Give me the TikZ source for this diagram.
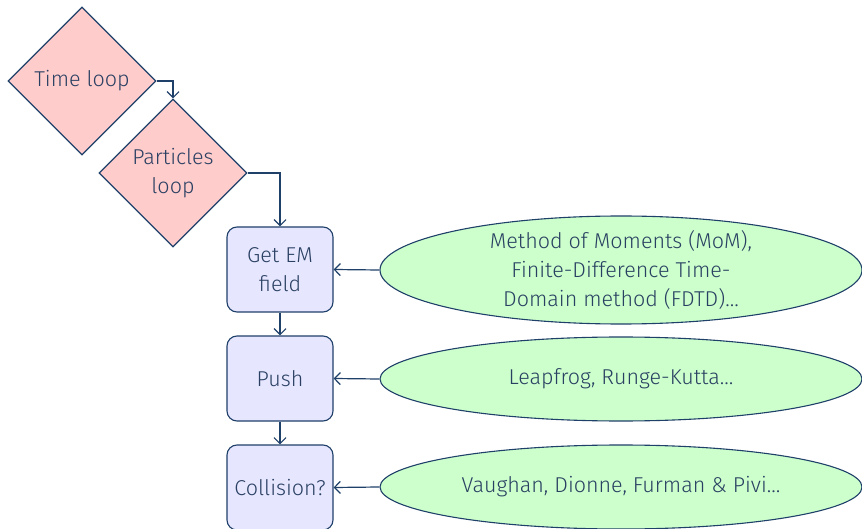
\documentclass[tikz,border=0pt]{standalone}
\usepackage{fontspec}
\setmainfont{Fira Sans}[UprightFont=* Light]
\usetikzlibrary{shapes.geometric,arrows.meta}
\definecolor{lineC}{RGB}{31,64,105}
\definecolor{textC}{RGB}{42,64,98}
\definecolor{pinkF}{RGB}{255,204,204}
\definecolor{blueF}{RGB}{230,230,255}
\definecolor{greenF}{RGB}{204,255,204}
\tikzset{
  every node/.style={font=\fontsize{21.5pt}{29pt}\selectfont, text=textC},
  loopbox/.style={diamond, draw=lineC, fill=pinkF, line width=1.1pt, minimum width=148pt, minimum height=148pt, inner sep=0pt, align=center},
  stepbox/.style={rectangle, rounded corners=10pt, draw=lineC, fill=blueF, line width=1.1pt, minimum width=106pt, minimum height=85pt, inner sep=0pt, align=center},
  methodell/.style={ellipse, draw=lineC, fill=greenF, line width=1.1pt, minimum width=482pt, inner sep=0pt},
  methodtxt/.style={align=center, inner sep=0pt},
  conn/.style={draw=lineC, line width=1.2pt, -{Straight Barb[length=6pt,width=12pt,line width=1.2pt]}},
}
\begin{document}
\begin{tikzpicture}[x=1pt,y=-1pt]
\useasboundingbox (0,0) rectangle (862,529);
\node[loopbox] (tl) at (82,81) {Time loop};
\node[loopbox] (pl) at (173,173) {Particles\\loop};
\node[stepbox] (gem) at (280,269.5) {Get EM\\field};
\node[stepbox] (push) at (280,378.5) {Push};
\node[stepbox] (col) at (280,487.5) {Collision?};
\node[methodell, minimum height=108pt, label={[methodtxt]center:Method of Moments (MoM),\\Finite-Difference Time-\\Domain method (FDTD)…}] (e1) at (621,270) {};
\node[methodell, minimum height=84pt, label={[methodtxt]center:Leapfrog, Runge-Kutta…}] (e2) at (621,379) {};
\node[methodell, minimum height=84pt, label={[methodtxt]center:Vaughan, Dionne, Furman \& Pivi…}] (e3) at (621,487) {};
\draw[conn] (tl.east) -| (pl.north);
\draw[conn] (pl.east) -| (gem.north);
\draw[conn] (gem) -- (push);
\draw[conn] (push) -- (col);
\draw[conn] (e1.west) -- (gem.east);
\draw[conn] (e2.west) -- (push.east);
\draw[conn] (e3.west) -- (col.east);
\end{tikzpicture}
\end{document}
